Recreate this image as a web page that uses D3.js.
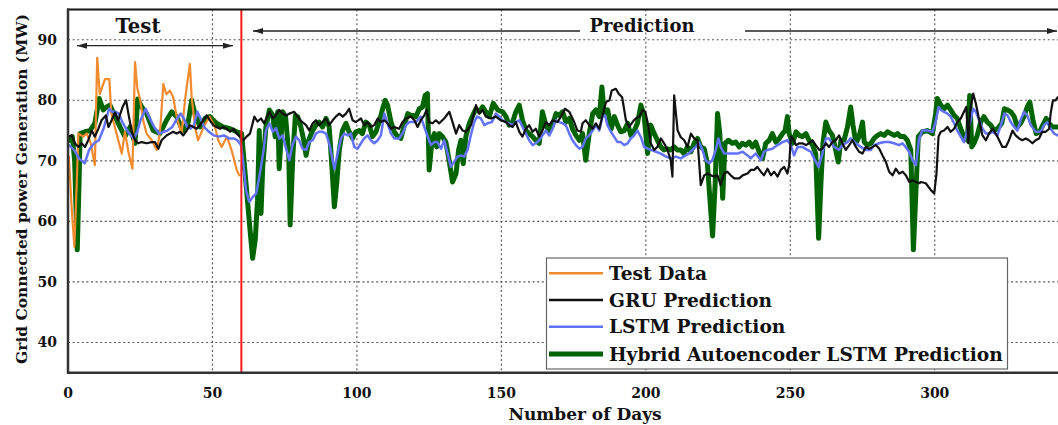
<!DOCTYPE html>
<html>
<head>
<meta charset="utf-8">
<script src="https://cdn.jsdelivr.net/npm/d3@7"></script>
<style>
  html, body { margin: 0; padding: 0; background: #fff; }
  svg { display: block; }
  text { font-family: "DejaVu Serif", "Liberation Serif", serif; font-weight: bold; fill: #111; }
</style>
</head>
<body>
<svg id="chart" width="1058" height="425"></svg>
<script>
// ---- data: [day, MW] ----
const testData = [[0.3,70.7],[1.3,62],[2.2,55.8],[3,66],[3.6,74.5],[5.3,74],[6.5,74.5],[7.8,73],[9.3,69.3],[10.1,87],[11,81],[12.8,83.5],[14.3,83.5],[15,77.8],[16.8,74.5],[18.6,71.2],[19.7,74.8],[20.9,71.5],[22.3,68.7],[23.2,86.3],[24,82],[25,80],[26,76.7],[27.2,74.5],[29,73.4],[30.7,71.8],[31.8,74.5],[33,82.7],[34,81],[35.3,81.6],[36.4,80.5],[37.6,77.3],[39.3,74.5],[40.5,80],[41.4,83.3],[42.2,86],[42.8,80.5],[44,75.5],[45,73.4],[46,74.5],[47.4,76],[49,77.3],[50.9,75.5],[52,73.4],[53.2,72.3],[55,74],[56.6,71.8],[58.4,68.5],[59.3,67.6]];

const gruPred = [[0.1,74],[1.3,74.2],[2.4,72.9],[3.6,72.3],[4.7,72.9],[5.9,72.3],[7,73.4],[8.2,75],[9.3,74],[10.5,75.3],[11.6,76.7],[13.1,77.5],[14,75.6],[15.1,76.7],[16.3,78],[17.4,76.7],[18.9,78.9],[20.1,80],[20.9,77.8],[22,75],[23.2,73.4],[24.3,72.9],[25.5,73.1],[27.2,72.9],[29,73.1],[30.1,73.1],[31.3,72],[32.4,73.4],[34.1,74.2],[35.3,74.5],[36.4,74.8],[37.6,74.5],[38.8,74.8],[39.9,74.2],[41.1,75],[42.2,75.9],[43.4,75.6],[44.5,75.3],[45.7,75.9],[46.8,76.7],[48,77.5],[49.1,76.7],[50.3,75.9],[51.4,75.6],[52.6,75.3],[53.7,75.6],[54.9,75.3],[56.1,74.8],[57.2,75.3],[58.4,74.5],[59.5,74],[60.7,73.4],[61.8,74],[63,74.5],[64.5,77.3],[65.6,76.5],[66.8,77],[67.9,76.2],[69.7,78.1],[70.9,77],[71.9,77.5],[73.1,78.4],[74.3,77.8],[75.5,77.5],[76.6,77.8],[78.3,78.1],[79.5,77.3],[80.8,76.5],[82.4,75.9],[83.5,75],[84.7,76.2],[85.8,76.7],[86.9,75.9],[88.1,76.4],[89.3,77],[90.4,75.9],[91.6,76.7],[92.7,77.3],[93.9,77.8],[95.1,77.3],[96.2,77.8],[97.3,78.6],[98.5,76.7],[99.6,76.4],[101.4,77],[102.5,75.9],[103.7,76.4],[104.8,75.6],[106,75.9],[107.2,77],[108.3,76.4],[109.5,76.7],[110.6,76.2],[111.8,75.3],[112.9,75.6],[114.6,75.3],[115.8,76.4],[117,77],[118.7,77.3],[119.9,76.7],[121,75.6],[122.1,76.7],[123.3,77.5],[124.1,78.4],[125,76.4],[126.2,76.2],[127.3,76.7],[128.5,76.2],[130.2,77],[132,78.1],[133.1,76.4],[134.3,74.5],[135.4,75.9],[136.6,75],[137.7,74.8],[139.5,75.9],[141.2,79.2],[142.3,77.8],[143.5,78.4],[144.6,77.3],[146.4,77],[148.1,77.3],[149.8,76.7],[151.6,76.4],[152.7,75.9],[153.9,75.6],[155,76.4],[156.2,74.8],[157.3,74],[158.5,75.3],[159.6,75.9],[160.8,74.8],[161.9,75.3],[163.1,74],[164.2,75],[165.4,76.4],[166.6,75.9],[167.7,76.7],[169.4,76.4],[170.6,77.3],[172,78.6],[173.5,78.1],[175.2,76.4],[176.3,75],[177.5,74.8],[178.1,76.2],[179.2,76.7],[180.4,75.9],[181.6,75.3],[182.7,76.2],[183.9,75.3],[185,77.5],[186.2,79.7],[187.4,80],[188.2,81.6],[189.6,81.9],[190.6,81.1],[191.8,80.5],[193.1,76.7],[194.2,75.6],[195.4,76.4],[196.5,77],[197.7,77.3],[198.9,78.4],[199.8,78.1],[200.6,76.4],[201.7,72.9],[202.9,71.8],[204,72.3],[205.2,73.7],[206.3,72.9],[207.5,71.8],[208.6,70.1],[209.2,67.4],[209.8,80.8],[211,75],[212.1,73.9],[213.3,73.4],[214.4,72.3],[215.6,74.5],[216.7,73.7],[217.9,73.4],[219,66],[220.2,67.6],[221.3,67.9],[222.5,67.6],[223.6,67.4],[224.8,67.6],[225.9,66],[227.1,67.9],[228.2,68.2],[229.4,67.6],[230.6,67.1],[232.3,67.1],[233.5,67.6],[235.2,67.9],[236.3,68.5],[237.5,68.5],[238.6,69],[239.8,68.2],[240.9,67.6],[242.1,68.7],[243.3,67.6],[244.4,68.2],[245.6,67.4],[246.7,68.5],[247.9,69],[249,67.9],[249.6,69.3],[250.2,74],[250.8,73.7],[252,72.6],[253.1,72.9],[254.2,72.9],[255.4,72.6],[256.5,72.9],[257.7,73.4],[258.8,72.6],[260,71.8],[261.1,72],[262.3,72.9],[263.4,72.3],[264.6,73.1],[265.7,73.4],[266.9,74.2],[268,72.9],[269.2,71.8],[270.4,72.6],[271.5,73.4],[272.7,72.3],[273.8,71.5],[275,71.2],[276.1,72.3],[277.3,72],[278.5,72.3],[279.6,72.6],[280.8,72],[281.9,70.9],[283.1,69.8],[284.2,68.2],[285.4,67.6],[286.5,68.7],[287.7,67.9],[288.9,68.2],[290,67.6],[291.2,66.5],[292.3,66.8],[293.5,66.5],[294.6,66.3],[295.2,66.5],[296.9,66.3],[298.6,65.2],[299.8,64.6],[300.6,67.9],[301.3,74],[302.1,74.8],[303.2,75],[304.4,75.6],[305.5,74.8],[306.7,75.3],[307.8,76.4],[309,77],[310.1,78.1],[310.9,78.9],[311.6,72.9],[312.2,78.1],[313.3,81.1],[314.2,79.5],[315.4,76.7],[316.5,74.2],[317.7,73.4],[318.8,74.5],[320,75.3],[321.1,74.5],[322.3,73.4],[323.4,72.3],[324.6,72.3],[325.7,73.4],[326.9,75],[328,74.2],[329.2,73.7],[330.3,73.4],[331.5,73.7],[332.6,73.4],[333.8,72.9],[334.9,73.4],[336.1,73.7],[337.2,74.8],[338.4,74.8],[339.6,75.3],[340.1,77.8],[340.9,80],[341.8,80],[342.6,80.5]];

const lstmPred = [[0.3,72.6],[2.1,71.8],[3.8,70.4],[5.8,69.6],[7.3,71.8],[9,72.9],[10.7,73.4],[12.5,75.6],[14.2,78.6],[15.3,78.1],[16.5,78.1],[17.6,77.8],[18.8,76.4],[20.5,75],[21.7,74.2],[22.8,73.7],[24,74.8],[25.1,76.7],[26.9,78.6],[28,77.3],[29.8,75.6],[31.5,74.5],[33.2,74.8],[34.4,75],[36.1,75.6],[37.8,77],[39,77.8],[40.1,77],[41.3,75.6],[42.4,75.3],[43.6,75.9],[44.8,78.1],[45.9,77],[47.1,75.6],[48.8,74.8],[50.5,74.2],[52.2,74],[54,74.2],[55.7,73.7],[57.4,73.7],[58.6,73.4],[59.9,72.6],[60.7,69.6],[61.6,65.2],[62.7,63.2],[63.9,64],[65.1,64.6],[66,66.8],[66.8,69],[67.7,71.8],[68.5,75],[69.7,76.2],[70.9,74.8],[72,75.4],[73.1,73.7],[74.3,74.2],[75.3,72.3],[76.6,70.1],[77.7,72.6],[78.9,74],[80,73.4],[81.2,72],[82.4,71.8],[83.5,73.1],[84.7,73.4],[85.8,74.5],[86.9,74.8],[88.1,74.8],[89.3,74.5],[90.4,72.9],[91.6,70.1],[92.2,68.7],[93.3,71.2],[94.5,73.7],[95.6,74.5],[96.8,74.2],[97.9,74.5],[99.1,72.3],[100.2,72],[101.4,72.9],[102.5,73.7],[103.7,74.2],[104.8,73.4],[106,72.9],[107.2,73.4],[108.3,74.2],[109.5,77.8],[110.6,76.2],[111.8,74.5],[112.9,73.7],[114.6,73.7],[115.8,74.5],[117,75.9],[118.1,76.4],[120.4,76.4],[122.1,77.3],[123.3,75.6],[124.5,74],[125.6,72.6],[126.8,73.1],[127.9,73.1],[129.1,72],[130.2,73.4],[131.4,71.2],[132.5,69],[133.6,69.8],[134.8,70.7],[136,70.9],[137.1,70.7],[138.3,71.8],[139.4,74.2],[140.6,76.4],[141.6,77.3],[142.9,77],[144.1,75.9],[145.2,76.2],[146.7,76.4],[148.1,77.8],[149.3,77.3],[150.4,76.7],[151.6,76.4],[152.7,76.2],[153.9,75.9],[155,76.4],[156.2,76.7],[157.3,75.6],[158.5,74.5],[159.6,73.4],[160.8,72.6],[161.9,72.9],[163.1,73.4],[164.2,74.2],[165.4,75],[166.6,74.2],[167.7,75.3],[168.9,76.7],[170,76.4],[171.2,76.2],[172.3,75.9],[173.5,74.5],[174.6,73.4],[175.8,72.6],[177,72],[178.1,72.3],[179.2,73.7],[180.4,74.2],[181.6,75],[182.7,75.9],[183.9,75],[185,77.3],[185.9,77.5],[186.7,75.9],[187.9,74.8],[189,74],[190.2,73.1],[191.3,73.1],[192.5,72.6],[193.7,72.9],[194.8,73.7],[196,74.2],[197.1,75],[198.3,73.9],[199.4,72.3],[200.6,72],[201.7,71.8],[203.5,71.5],[205.2,71.2],[207,70.7],[208.6,70.4],[210.4,70.7],[212.1,70.4],[213.8,70.9],[214.9,71.2],[216.1,71.8],[217.3,72.3],[218.4,73.1],[219.6,71.8],[220.7,70.1],[221.9,69.6],[223,70.1],[224.2,71.8],[225.1,73.7],[225.9,72.3],[227.1,71.2],[228.2,71.2],[230,71.2],[231.7,71.2],[233.5,71.5],[235.2,70.9],[236.3,70.4],[238,71.2],[239.8,70.1],[240.9,71.5],[242.1,71.8],[243.8,72],[245.6,72.6],[247.3,73.1],[249,73.4],[250.2,72.6],[251.3,70.9],[252.5,72.3],[254.2,72.3],[255.9,71.8],[257.1,71.5],[258.2,70.4],[259.8,69],[261.1,71.2],[262.3,73.7],[263.4,73.7],[265.2,72.3],[266.9,71.8],[268,72.6],[269.8,73.1],[270.9,73.7],[272.7,72.9],[274.4,72.3],[276.1,71.8],[277.9,71.8],[279,72.6],[280.7,72.9],[282.5,73.1],[284.2,73.1],[285.9,72.9],[287.6,72.6],[288.8,72.9],[289.9,72.3],[291.1,71.5],[292.3,70.1],[293.5,69.3],[294.6,73.7],[295.7,75],[297.5,75],[299.2,74.8],[300.3,76.4],[301.3,78.9],[302.1,78.4],[303.2,78.1],[304.4,77.8],[305.5,77.3],[306.7,76.2],[307.8,75],[309,74],[310.1,73.1],[311.3,75],[312.4,76.7],[313.3,78.6],[314.2,78.1],[315.4,76.7],[316.5,75.3],[317.7,74.5],[318.8,74.5],[320,74.8],[321.7,74.2],[322.9,75.9],[324.1,77.8],[325.2,77.5],[326.3,76.4],[327.5,75.6],[328.6,75],[329.7,76.7],[330.9,78.1],[332,77.5],[333.2,75.9],[334.9,74.8],[336.7,74.8],[337.8,75.9],[339,76.4],[340.1,75.3],[341.3,74.5],[342.6,74.2]];

const hybridPred = [[0.3,73.4],[1.5,74],[2.3,70],[3.2,55.3],[3.8,66],[4.2,74.5],[5.9,74.8],[7.6,75],[9.3,76.2],[10.8,80.3],[12.2,78.4],[13.4,78.9],[14.5,79.2],[16.3,77.3],[18,75.6],[19.7,74],[21.5,75.6],[23.2,72.9],[24.1,80.2],[25.5,78.9],[27.2,77.8],[29.5,75],[31.8,74.5],[34.1,76.7],[35.9,78.1],[37.6,77.3],[39.7,75],[41.6,76.4],[42.8,80],[43.9,77.8],[45.7,75.6],[47.4,77],[49.1,77.3],[51.4,76.2],[53.7,75.6],[56.1,75.3],[58.4,74.8],[60.1,74.5],[60.7,71.2],[61.6,66.3],[62.7,60.2],[63.9,53.9],[64.8,56.9],[65.6,63.5],[66.2,75],[66.8,61.3],[67.4,69],[68.5,75.6],[69.7,78.4],[70.9,77.5],[71.7,74],[72.6,78.1],[73.1,68.7],[74.3,78.1],[75.3,77.3],[76.4,71.2],[76.9,59.4],[77.8,70.7],[78.7,77.5],[79.5,77.3],[80.6,75.6],[81.8,72.9],[82.4,70.9],[83.5,73.7],[84.7,75],[85.8,75.9],[86.9,76.4],[88.1,75.6],[89.3,77],[90.4,75.6],[91.2,70.1],[92.2,62.4],[93,66.3],[93.9,71.8],[95,75],[96.2,76.2],[97.3,74.8],[98.5,73.7],[99.6,74.8],[100.8,75],[101.9,74.5],[103.1,76.4],[104.3,75.9],[105.4,74],[106.6,74.8],[107.7,76.4],[108.9,78.6],[109.8,80],[110.6,79.2],[111.8,76.4],[112.9,74.8],[114.1,74],[115.2,73.7],[116.4,75.9],[117.6,77.8],[118.7,77.5],[119.3,77.5],[120.4,77.3],[121.6,78.6],[122.7,78.9],[123.6,80.8],[124.4,81.1],[125,68.5],[126,73.4],[126.8,74.5],[127.6,72.3],[128.5,74.5],[129.6,74],[130.8,73.1],[131.9,70.1],[133.1,66.5],[134.3,67.9],[135.2,71.8],[136,73.4],[136.8,69.5],[137.7,74],[138.9,76.2],[140.1,77.5],[141.2,78.6],[142.4,78.1],[143.5,78.9],[144.6,78.1],[145.8,77.3],[147.2,79.5],[148.7,78.4],[150.4,78.1],[151.6,77.3],[152.7,75.9],[153.9,76.4],[155,78.1],[156.2,79.2],[157.3,76.7],[158.5,75],[159.6,74.5],[160.8,74],[161.9,73.4],[163.1,72.9],[164.2,78.1],[165.4,75.9],[166.6,74.8],[167.7,75.9],[168.9,77.8],[170,77.5],[171.2,78.1],[172.3,76.4],[173.5,77],[174.6,75.3],[175.8,74.2],[177,73.4],[178.1,74.5],[179.2,70.1],[180.4,74.5],[181.6,77.8],[182.7,78.4],[183.9,77.3],[184.8,82.2],[185.6,77.8],[186.8,78.4],[188,75.3],[189.1,77.3],[190.2,75.9],[191.3,74.8],[192.5,75],[193.7,76.2],[194.8,74.2],[196,75],[197.1,76.2],[198.3,79.2],[199.4,77.5],[200.6,71.2],[201.7,75.9],[202.9,74.5],[204,73.4],[205.2,72.3],[206.3,71.8],[207.5,72],[208.6,71.8],[209.8,72.3],[210.9,71.8],[212.1,71.8],[213.2,71.2],[214.4,72.3],[215.6,71.5],[216.7,72.9],[217.9,73.7],[219,72.3],[220.2,72],[221.3,69.6],[222.2,63.5],[223.1,57.6],[224,66.3],[224.8,77.8],[225.6,74.5],[226.6,63.8],[227.4,72.9],[228.6,73.4],[229.9,72.9],[231.1,73.1],[232.3,72.3],[233.4,72.9],[234.6,72.6],[235.8,73.1],[236.9,72.3],[238,73.1],[239.2,71.5],[240.4,70.4],[241.5,72.9],[242.7,73.4],[243.8,74.5],[245,73.1],[246.2,73.7],[247.3,74.5],[248.2,75],[249,77.3],[249.6,74.5],[250.8,72.9],[252,74.8],[253.1,74.2],[254.2,74],[255.4,74.5],[256.5,73.4],[257.7,72.6],[258.8,71.2],[259.8,57.2],[260.6,66.3],[261.3,72.9],[262.3,76.4],[263.4,75],[264.6,74.2],[265.7,71.8],[266.6,69.8],[267.5,73.4],[268.6,73.4],[269.8,75.6],[270.9,78.9],[271.7,75.9],[272.7,72.9],[273.8,74],[275,76.4],[275.6,73.1],[276.7,72.6],[277.9,72.9],[279,73.7],[280.2,74.2],[281.3,74.5],[282.5,74.2],[283.6,74.8],[284.8,74.5],[286,74.2],[287.1,74.5],[288.2,74],[289.4,74],[290.5,73.4],[291.7,71.8],[292.6,55.3],[293.4,64.1],[294.3,74],[295.7,74.8],[297.5,75],[299.2,74.5],[300.3,77.8],[300.9,80.3],[302.1,79.2],[303.2,78.6],[304.4,79.2],[305.5,78.4],[306.7,77.5],[307.8,77],[309,75.3],[310.1,74],[311.3,73.4],[312.1,80.8],[312.8,72.3],[313.6,72.9],[314.7,74.2],[315.9,76.4],[317,77.3],[318.2,76.4],[319.4,75.9],[320.5,75],[321.7,75.3],[323.2,76.2],[324.1,78.6],[325.2,78.4],[326.3,78.1],[327.5,77.3],[328.6,75.6],[329.7,76.2],[330.9,77.3],[332,78.9],[332.9,79.7],[334,76.7],[335.1,74.5],[336.3,74.8],[337.4,75.9],[338.6,77],[339.6,76.2],[340.7,75.6],[342.6,75.6]];

const xTicks = [0, 50, 100, 150, 200, 250, 300];
const yTicks = [40, 50, 60, 70, 80, 90];
const splitDay = 60;
const legendLabels = ["Test Data", "GRU Prediction", "LSTM Prediction", "Hybrid Autoencoder LSTM Prediction"];

// ---- layout ----
const svg = d3.select("#chart");
const plotLeft = 68, plotRight = 1059, plotTop = 9.5, plotBottom = 372.7;

const x = d3.scaleLinear().domain([0, 343]).range([plotLeft, plotRight]);
const y = d3.scaleLinear().domain([35, 95]).range([plotBottom, plotTop]);

// scale a text's font so its rendered width equals the given width
function fitWidth(sel, width) {
  const size = parseFloat(sel.attr("font-size"));
  const w = sel.node().getComputedTextLength();
  if (w > 0) sel.attr("font-size", (size * width / w).toFixed(2));
  return sel;
}

const defs = svg.append("defs");
defs.append("clipPath").attr("id", "plotClip")
  .append("rect").attr("x", plotLeft).attr("y", plotTop)
  .attr("width", plotRight - plotLeft).attr("height", plotBottom - plotTop);

function arrowMarker(id, orient) {
  defs.append("marker")
    .attr("id", id).attr("viewBox", "0 0 10 6").attr("refX", 10).attr("refY", 3)
    .attr("markerWidth", 10).attr("markerHeight", 6).attr("markerUnits", "userSpaceOnUse")
    .attr("orient", orient)
    .append("path").attr("d", "M0,0 L10,3 L0,6 Z").attr("fill", "#222");
}
arrowMarker("arrowEnd", "auto");
arrowMarker("arrowStart", "auto-start-reverse");

// grid
const grid = svg.append("g").attr("stroke", "#555").attr("stroke-width", 1.1).attr("stroke-dasharray", "2,2.6");
xTicks.filter(d => d > 0).forEach(d => {
  grid.append("line").attr("x1", x(d)).attr("x2", x(d)).attr("y1", plotTop).attr("y2", plotBottom);
});
yTicks.forEach(d => {
  grid.append("line").attr("x1", plotLeft).attr("x2", plotRight).attr("y1", y(d)).attr("y2", y(d));
});

// series
const line = d3.line().x(d => x(d[0])).y(d => y(d[1]));
const plot = svg.append("g").attr("clip-path", "url(#plotClip)");
const series = [
  { data: hybridPred, color: "#006400", width: 5 },
  { data: testData,   color: "#f28a2e", width: 2.2 },
  { data: lstmPred,   color: "#6272fa", width: 2.5 },
  { data: gruPred,    color: "#111111", width: 2.2 }
];
series.forEach(s => {
  plot.append("path").datum(s.data)
    .attr("d", line).attr("fill", "none")
    .attr("stroke", s.color).attr("stroke-width", s.width)
    .attr("stroke-linejoin", "round").attr("stroke-linecap", "round");
});

// test / prediction divider
svg.append("line").attr("x1", x(splitDay)).attr("x2", x(splitDay)).attr("y1", plotTop).attr("y2", plotBottom)
  .attr("stroke", "#ff1a1a").attr("stroke-width", 2);

// frame
svg.append("line").attr("x1", plotLeft - 1).attr("x2", 1058).attr("y1", plotTop).attr("y2", plotTop).attr("stroke", "#111").attr("stroke-width", 2);
svg.append("line").attr("x1", plotLeft).attr("x2", plotLeft).attr("y1", plotTop - 1).attr("y2", plotBottom + 1).attr("stroke", "#333").attr("stroke-width", 2.5);
svg.append("line").attr("x1", plotLeft - 1).attr("x2", 1058).attr("y1", plotBottom).attr("y2", plotBottom).attr("stroke", "#333").attr("stroke-width", 2.5);

// tick labels
svg.append("g").selectAll("text").data(yTicks).join("text")
  .attr("x", 57).attr("y", d => y(d)).attr("dy", "0.35em")
  .attr("text-anchor", "end").attr("font-size", 14).text(d => d);
svg.append("g").selectAll("text").data(xTicks).join("text")
  .attr("x", d => x(d)).attr("y", 398)
  .attr("text-anchor", "middle").attr("font-size", 14).text(d => d);

// axis titles
svg.append("text").attr("x", 585).attr("y", 420).attr("text-anchor", "middle")
  .attr("font-size", 17).text("Number of Days");
fitWidth(
  svg.append("text").attr("transform", "translate(27,189) rotate(-90)").attr("text-anchor", "middle")
    .attr("font-size", 17).text("Grid Connected power Generation (MW)"),
  350);

// period annotations
fitWidth(svg.append("text").attr("x", 138).attr("y", 33).attr("text-anchor", "middle")
  .attr("font-size", 19).text("Test"), 45);
svg.append("line").attr("x1", 77).attr("x2", 233).attr("y1", 45.7).attr("y2", 45.7)
  .attr("stroke", "#222").attr("stroke-width", 1.3)
  .attr("marker-start", "url(#arrowStart)").attr("marker-end", "url(#arrowEnd)");

fitWidth(svg.append("text").attr("x", 642).attr("y", 32).attr("text-anchor", "middle")
  .attr("font-size", 19).text("Prediction"), 105);
svg.append("line").attr("x1", 253).attr("x2", 580).attr("y1", 31).attr("y2", 31)
  .attr("stroke", "#222").attr("stroke-width", 1.3).attr("marker-start", "url(#arrowStart)");
svg.append("line").attr("x1", 745).attr("x2", 1057).attr("y1", 31).attr("y2", 31)
  .attr("stroke", "#222").attr("stroke-width", 1.3).attr("marker-end", "url(#arrowEnd)");

// legend
const legend = svg.append("g");
legend.append("rect").attr("x", 546.5).attr("y", 258).attr("width", 461).attr("height", 111)
  .attr("fill", "#fff").attr("stroke", "#666").attr("stroke-width", 1.2);
const legendStyles = [
  { color: "#f28a2e", width: 2.5 },
  { color: "#111111", width: 2.5 },
  { color: "#6272fa", width: 2.5 },
  { color: "#006400", width: 5 }
];
const legendY = [273.3, 300, 326.7, 354];
const legendTexts = legendLabels.map((label, i) => {
  legend.append("line").attr("x1", 549).attr("x2", 603).attr("y1", legendY[i]).attr("y2", legendY[i])
    .attr("stroke", legendStyles[i].color).attr("stroke-width", legendStyles[i].width);
  return legend.append("text").attr("x", 609).attr("y", legendY[i]).attr("dy", "0.35em")
    .attr("font-size", 18).text(label);
});
// all legend entries share the size that makes the longest one fill the box
fitWidth(legendTexts[3], 394);
const legendSize = legendTexts[3].attr("font-size");
legendTexts.forEach(t => t.attr("font-size", legendSize));
</script>
</body>
</html>
